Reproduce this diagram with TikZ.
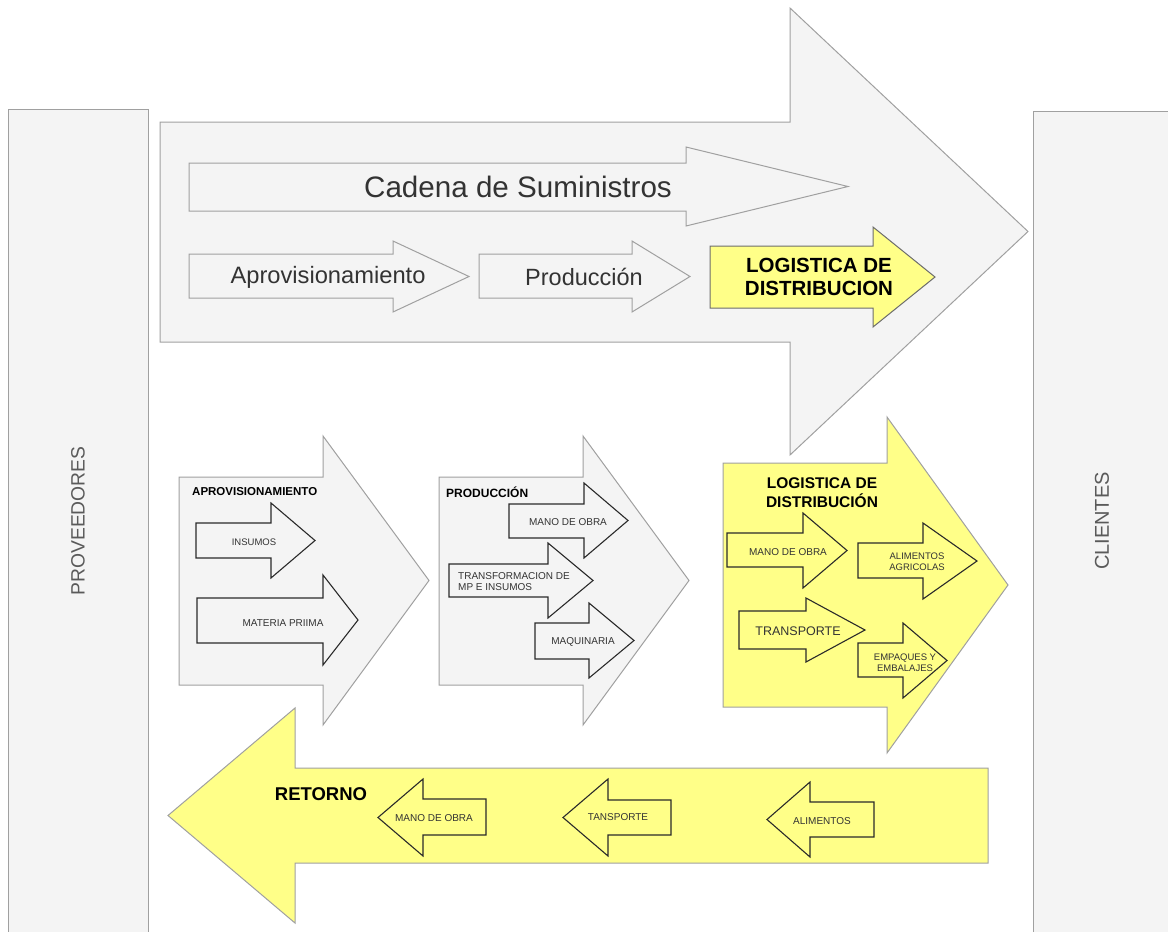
\documentclass[tikz,border=0pt]{standalone}
\usepackage{fontspec}
\setmainfont{Liberation Sans}
\definecolor{lgray}{HTML}{F4F4F4}
\definecolor{edgegray}{HTML}{A0A0A0}
\definecolor{yel}{HTML}{FFFF88}
\definecolor{dkedge}{HTML}{2A2A2A}
\definecolor{txtgray}{HTML}{333333}
\definecolor{sidegray}{HTML}{5A5A5A}
\newcommand\rarr[8]{%
  \draw[#1] (#2,#3) -- (#5,#3) -- (#5,#6) -- (#8,{(#6+#7)/2}) -- (#5,#7) -- (#5,#4) -- (#2,#4) -- cycle;}
\newcommand\fsz[2]{\fontsize{#1}{#2}\selectfont}
\tikzset{
  gbig/.style={fill=lgray, draw=edgegray, line width=1pt, line join=miter},
  ybig/.style={fill=yel, draw=gray!85!black, line width=1pt, line join=miter},
  ybigm/.style={fill=yel, draw=edgegray, line width=1pt, line join=miter},
  gsmall/.style={fill=lgray, draw=dkedge, line width=1.1pt, line join=miter},
  ysmall/.style={fill=yel, draw=dkedge, line width=1.1pt, line join=miter},
  lbl/.style={inner sep=0pt, text=txtgray},
  ttl/.style={inner sep=0pt, text=black, font=\bfseries},
}
\begin{document}
\begin{tikzpicture}[x=1pt, y=-1pt]
\useasboundingbox (0,0) rectangle (1168,932);
% side panels
\fill[lgray] (8,109) rectangle (148,932);
\draw[edgegray, line width=1pt] (8,932) -- (8,109) -- (148,109) -- (148,932);
\fill[lgray] (1033,111) rectangle (1168,932);
\draw[edgegray, line width=1pt] (1033,932) -- (1033,111) -- (1168,111);
\node[inner sep=0pt, text=sidegray, rotate=90, font=\fsz{19.3}{22}] (prov) at (78,521) {PROVEEDORES};
\node[inner sep=0pt, text=sidegray, rotate=90, font=\fsz{20}{23}] (cli) at (1102,521) {CLIENTES};
% top big arrow
\rarr{gbig}{160}{122}{342}{790}{8}{455}{1028}
\rarr{gbig}{189}{163}{211}{686}{147}{226}{848}
\rarr{gbig}{189}{254}{298}{393}{241}{312}{469}
\rarr{gbig}{479}{254}{298}{632}{241}{312}{690}
\rarr{ybig}{710}{246}{308}{873}{227}{327}{935}
\node[lbl, font=\fsz{29.6}{34}] (cadena) at (518,187) {Cadena de Suministros};
\node[lbl, font=\fsz{23.7}{27}] (aprovT) at (328,277) {Aprovisionamiento};
\node[lbl, font=\fsz{23.5}{27}] (prodT) at (584,277) {Producción};
\node[ttl, align=center, font=\bfseries\fsz{20.5}{23}] (logT) at (819,277) {LOGISTICA DE\\DISTRIBUCION};
% middle: aprovisionamiento
\rarr{gbig}{179}{477}{685}{323}{436}{725}{429}
\rarr{gsmall}{196}{523}{558}{271}{503}{578}{315}
\rarr{gsmall}{197}{598}{643}{323}{575}{665}{358}
\node[ttl, anchor=west, font=\bfseries\fsz{11.5}{13}] (aprovM) at (192,492) {APROVISIONAMIENTO};
\node[lbl, font=\fsz{9.5}{11}] (insumos) at (254,542) {INSUMOS};
\node[lbl, font=\fsz{10}{11}] (materia) at (283,623) {MATERIA PRIIMA};
% middle: produccion
\rarr{gbig}{439}{477}{685}{583}{436}{725}{689}
\rarr{gsmall}{509}{504}{538}{584}{483}{558}{628}
\rarr{gsmall}{449}{564}{597}{548}{543}{618}{593}
\rarr{gsmall}{535}{623}{659}{589}{603}{678}{634}
\node[ttl, anchor=west, font=\bfseries\fsz{12}{14}] (prodM) at (446,492) {PRODUCCIÓN};
\node[lbl, font=\fsz{10}{11}] (mano1) at (568,522) {MANO DE OBRA};
\node[lbl, anchor=west, align=left, font=\fsz{10}{11}] (transf) at (458,582) {TRANSFORMACION DE\\MP E INSUMOS};
\node[lbl, font=\fsz{10}{11}] (maq) at (583,642) {MAQUINARIA};
% middle: logistica
\rarr{ybigm}{723}{463}{707}{887}{417}{753}{1008}
\rarr{ysmall}{727}{533}{567}{803}{513}{588}{847}
\rarr{ysmall}{858}{543}{578}{923}{523}{599}{977}
\rarr{ysmall}{739}{611}{649}{806}{598}{662}{865}
\rarr{ysmall}{858}{643}{677}{903}{623}{698}{947}
\node[ttl, align=center, font=\bfseries\fsz{15.5}{19}] (logM) at (822,493) {LOGISTICA DE\\DISTRIBUCIÓN};
\node[lbl, font=\fsz{10}{11}] (mano2) at (788,552) {MANO DE OBRA};
\node[lbl, align=center, font=\fsz{9.5}{11}] (alim) at (917,562) {ALIMENTOS\\AGRICOLAS};
\node[lbl, font=\fsz{12.5}{14}] (transp) at (798,631) {TRANSPORTE};
\node[lbl, align=center, font=\fsz{9.5}{11}] (empaq) at (905,663) {EMPAQUES Y\\EMBALAJES};
% retorno
\rarr{ybigm}{988}{768}{863}{295}{708}{923}{168}
\rarr{ysmall}{486}{799}{835}{423}{779}{856}{378}
\rarr{ysmall}{671}{800}{835}{608}{779}{856}{563}
\rarr{ysmall}{874}{802}{837}{810}{782}{857}{767}
\node[ttl, font=\bfseries\fsz{18.5}{21}] (retorno) at (321,794) {RETORNO};
\node[lbl, font=\fsz{10}{11}] (mano3) at (434,818) {MANO DE OBRA};
\node[lbl, font=\fsz{10}{11}] (tansp) at (618,817) {TANSPORTE};
\node[lbl, font=\fsz{10}{11}] (alimR) at (822,821) {ALIMENTOS};
\end{tikzpicture}
\end{document}
